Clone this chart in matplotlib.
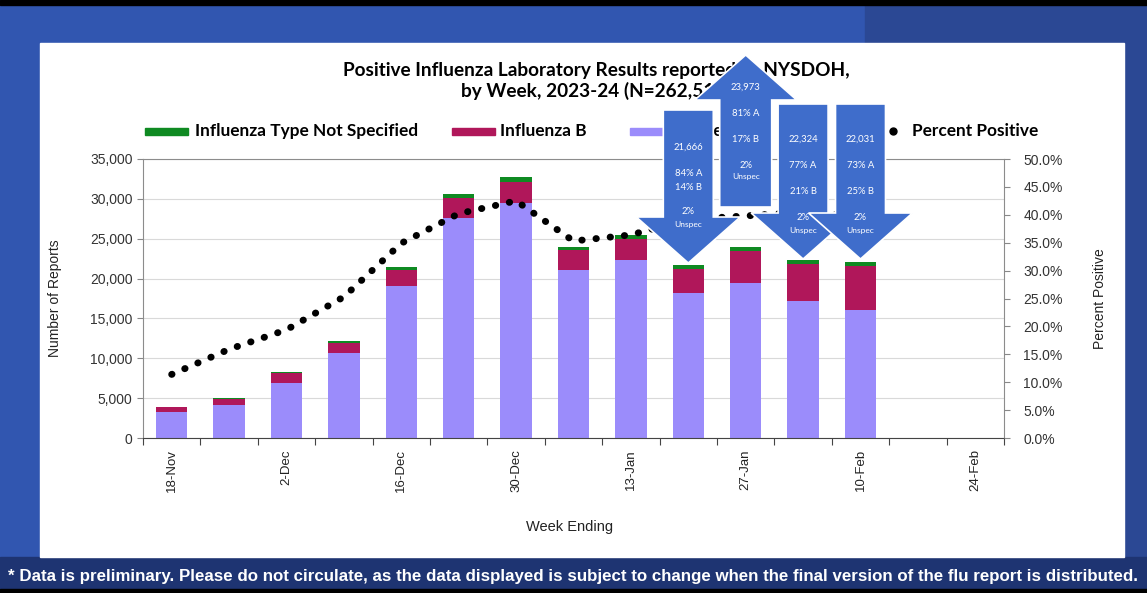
import matplotlib.pyplot as plt
import matplotlib.patches as mpatches
import numpy as np

W, H = 1147, 593

weeks = ["18-Nov", "25-Nov", "2-Dec", "9-Dec", "16-Dec", "23-Dec", "30-Dec", "6-Jan",
         "13-Jan", "20-Jan", "27-Jan", "3-Feb", "10-Feb", "17-Feb", "24-Feb"]
flu_a = [3200, 4150, 6900, 10650, 19100, 27600, 29450, 21100, 22350, 18200, 19420, 17190, 16080, 0, 0]
flu_b = [650, 750, 1200, 1300, 2000, 2550, 2700, 2450, 2650, 3030, 4075, 4690, 5510, 0, 0]
flu_unspec = [100, 100, 150, 200, 350, 500, 650, 450, 450, 436, 478, 444, 441, 0, 0]
pct_pos = [11.4, 15.9, 19.4, 25.3, 34.9, 40.2, 42.5, 35.3, 36.4, 39.2, 39.8, 40.5, 39.6, np.nan, np.nan]

callout_idx = [9, 10, 11, 12]
callout_dir = ["down", "up", "down", "down"]
callout_total = ["21,666", "23,973", "22,324", "22,031"]
callout_a = ["84% A", "81% A", "77% A", "73% A"]
callout_b = ["14% B", "17% B", "21% B", "25% B"]

title = "Positive Influenza Laboratory Results reported to NYSDOH,\nby Week, 2023-24 (N=262,519)"
footnote = ("* Data is preliminary. Please do not circulate, as the data displayed is subject to change "
            "when the final version of the flu report is distributed.")

c_a = "#9B8CFB"
c_b = "#B0175A"
c_un = "#0F8A22"
c_arrow = "#3F6DCB"

fig = plt.figure(figsize=(W / 100, H / 100), dpi=100)

# slide background in pixel coordinates
bg = fig.add_axes([0, 0, 1, 1], zorder=0)
bg.set_xlim(0, W)
bg.set_ylim(H, 0)
bg.axis("off")
bg.add_patch(mpatches.Rectangle((0, 0), W, H, color="#3156B0"))
bg.add_patch(mpatches.Rectangle((865, 0), W - 865, 43, color="#2B4894"))
bg.add_patch(mpatches.Rectangle((1124, 0), W - 1124, 560, color="#2B4894"))
bg.add_patch(mpatches.Rectangle((0, 557), W, 33, color="#1E3472"))
bg.add_patch(mpatches.Rectangle((0, 0), W, 5, color="black"))
bg.add_patch(mpatches.Rectangle((0, 589), W, 4, color="black"))
bg.add_patch(mpatches.Rectangle((40, 43), 1084, 514, color="white"))

# title and legend
bg.text(596, 81, title, ha="center", va="center", fontsize=13.7, fontweight="bold",
        family="Lato", color="black", linespacing=1.2)

leg_font = dict(fontsize=12.4, fontweight="bold", family="Lato", color="black", va="center")
bg.add_patch(mpatches.Rectangle((145, 128), 43, 7, color=c_un))
bg.text(195, 131, "Influenza Type Not Specified", **leg_font)
bg.add_patch(mpatches.Rectangle((452, 128), 43, 7, color=c_b))
bg.text(500, 131, "Influenza B", **leg_font)
bg.add_patch(mpatches.Rectangle((630, 128), 43, 7, color=c_a))
bg.text(678, 131, "Influenza A", **leg_font)
bg.plot([893], [131], "o", color="black", ms=5)
bg.text(912, 131, "Percent Positive", **leg_font)

ft = bg.text(573, 576, footnote, ha="center", va="center", color="white", fontweight="bold",
             family="Liberation Sans", fontsize=12)
r = fig.canvas.get_renderer()
ft.set_fontsize(12 * 1123 / ft.get_window_extent(r).width)

# chart
ax = fig.add_axes([143 / W, 1 - 438 / H, 861 / W, 279 / H], zorder=2)
ax.patch.set_alpha(0)
x = np.arange(len(weeks))
bw = 0.55
ax.bar(x, flu_a, bw, color=c_a, zorder=2)
ax.bar(x, flu_b, bw, bottom=flu_a, color=c_b, zorder=2)
ax.bar(x, flu_unspec, bw, bottom=np.add(flu_a, flu_b), color=c_un, zorder=2)
ax.set_xlim(-0.5, len(weeks) - 0.5)
ax.set_ylim(0, 35000)
ax.set_yticks(np.arange(0, 35001, 5000))
ax.set_yticklabels([f"{v:,}" for v in range(0, 35001, 5000)])
ax.yaxis.grid(True, color="#D9D9D9", lw=0.8, zorder=0)
ax.set_axisbelow(True)
ax.set_xticks(np.arange(-0.5, len(weeks), 1))
ax.set_xticklabels([])
ax.set_xticks(x[::2], minor=True)
ax.set_xticklabels(weeks[::2], minor=True, rotation=90, fontsize=9.5, color="#222222",
                   family="Liberation Sans")
ax.tick_params(axis="x", which="major", length=5, color="#444444")
ax.tick_params(axis="x", which="minor", length=0, pad=8)
ax.tick_params(axis="y", length=4, color="#888888", labelsize=10, labelcolor="#333333")
for lab in ax.get_yticklabels():
    lab.set_family("Liberation Sans")
for s in ["left", "right", "top"]:
    ax.spines[s].set_color("#8C8C8C")
ax.spines["bottom"].set_color("#444444")
ax.set_ylabel("Number of Reports", fontsize=10, family="Liberation Sans", color="#222222")
ax.yaxis.set_label_coords((62 - 143) / 861, 0.5)
ax.set_xlabel("Week Ending", fontsize=10.5, family="Liberation Sans", color="#222222")
ax.xaxis.set_label_coords((570 - 143) / 861, (438 - 520) / 279)

ax2 = ax.twinx()
ax2.plot(x, pct_pos, color="black", lw=5, ls=(0, (0.05, 2.0)), dash_capstyle="round")
ax2.set_ylim(0, 50)
ax2.set_yticks(np.arange(0, 50.1, 5))
ax2.set_yticklabels([f"{v:.1f}%" for v in np.arange(0, 50.1, 5)])
ax2.tick_params(axis="y", length=4, color="#888888", labelsize=10, labelcolor="#333333", pad=10)
for lab in ax2.get_yticklabels():
    lab.set_family("Liberation Sans")
for s in ["left", "right", "top", "bottom"]:
    ax2.spines[s].set_visible(False)
ax2.set_ylabel("Percent Positive", fontsize=10, family="Liberation Sans", color="#222222")
ax2.yaxis.set_label_coords((1093 - 143) / 861, 0.5)

# callout arrows over the last four weeks
ov = fig.add_axes([0, 0, 1, 1], zorder=5)
ov.set_xlim(0, W)
ov.set_ylim(H, 0)
ov.axis("off")
fig.canvas.draw()
shapes = {
    "down": dict(top=104, base=213, tip=259, sh=25, hh=52),
    "up": dict(top=207, base=100, tip=55, sh=26, hh=51),
}
txt = dict(color="white", family="Lato", fontsize=6.8, ha="center", va="center")
for k, i in enumerate(callout_idx):
    cx = ax.transData.transform((i, 0))[0]
    g = shapes[callout_dir[k]]
    top, base, tip, sh, hh = g["top"], g["base"], g["tip"], g["sh"], g["hh"]
    if k == 0:
        top, base, tip = 110, 217, 263
    pts = [(cx - sh, top), (cx + sh, top), (cx + sh, base), (cx + hh, base), (cx, tip),
           (cx - hh, base), (cx - sh, base)]
    ov.add_patch(mpatches.Polygon(pts, closed=True, facecolor=c_arrow, edgecolor="white", lw=1.2))
    if callout_dir[k] == "up":
        ys = [87, 113, 139, 165, 177]
    elif k == 0:
        ys = [147, 173, 187, 212, 224]
    else:
        ys = [139, 166, 192, 218, 231]
    ov.text(cx, ys[0], callout_total[k], **txt)
    ov.text(cx, ys[1], callout_a[k], **txt)
    ov.text(cx, ys[2], callout_b[k], **txt)
    ov.text(cx, ys[3], "2%", **txt)
    ov.text(cx, ys[4], "Unspec", **dict(txt, fontsize=6))

fig.savefig("out.png", dpi=100)
